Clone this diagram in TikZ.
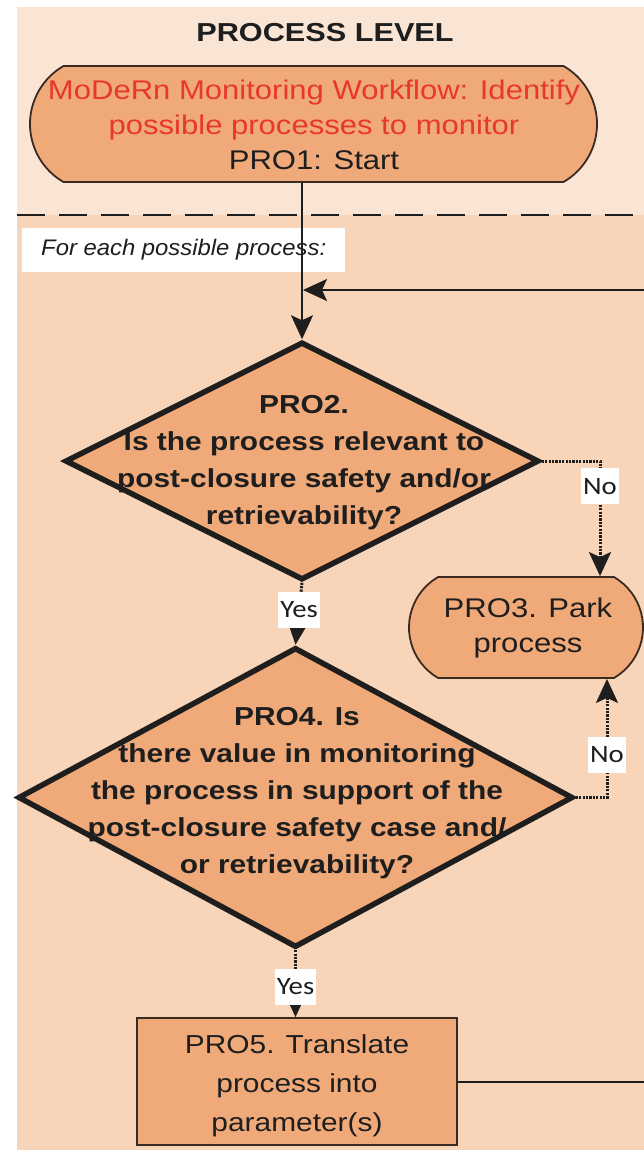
\documentclass[tikz,border=0pt]{standalone}
\usepackage{fontspec}
\setmainfont{Liberation Sans}
\newfontfamily\ftitle[FakeStretch=1.18]{Liberation Sans}
\newfontfamily\fbody[FakeStretch=1.15]{Liberation Sans}
\newfontfamily\fnote[FakeStretch=1.06]{Liberation Sans}
\newfontfamily\flab[FakeStretch=1.15]{Carlito}
\usetikzlibrary{shapes.geometric,shapes.misc,arrows.meta,calc}

\definecolor{bgtop}{HTML}{FAE5D5}
\definecolor{bgmain}{HTML}{F8D4B9}
\definecolor{boxfill}{HTML}{F0AA7A}
\definecolor{outline}{HTML}{3A2B22}
\definecolor{wfred}{HTML}{E8372C}
\definecolor{ink}{HTML}{1E1E1E}

\tikzset{
  terminal/.style={rounded rectangle, draw=outline, line width=1.8pt,
    fill=boxfill, inner sep=0pt},
  decision/.style={diamond, draw=ink, line width=5.5pt, fill=boxfill,
    inner sep=0pt, line join=miter},
  stepbox/.style={rectangle, draw=outline, line width=1.8pt, fill=boxfill,
    inner sep=0pt},
  bodytext/.style={align=center, text=ink, inner sep=0pt,
    font=\fbody\fontsize{26}{37}\selectfont},
  qtext/.style={bodytext, font=\fbody\bfseries\fontsize{26}{37}\selectfont},
  lab/.style={fill=white, inner xsep=2pt, inner ysep=0pt, minimum height=36pt,
    text=ink, font=\flab\fontsize{25}{25}\selectfont},
  flow/.style={draw=ink, line width=2pt,
    -{Stealth[length=24pt,width=22pt,inset=5pt]}},
  dotflow/.style={draw=ink, line width=3pt, dash pattern=on 2.2pt off 1.2pt,
    -{Stealth[length=24pt,width=22pt,inset=5pt]}},
  plain/.style={draw=ink, line width=2pt},
}

\begin{document}
\begin{tikzpicture}[x=1pt,y=-1pt]
\useasboundingbox (0,0) rectangle (644,1152);
\fill[white] (0,0) rectangle (644,1152);

% swimlane background: header band and body
\fill[bgtop] (17,7) rectangle (644,215);
\fill[bgmain] (17,215) rectangle (644,1150);
\draw[ink, line width=1.8pt, dash pattern=on 28pt off 14pt] (17,215) -- (644,215);

\node[text=ink, inner sep=0pt, font=\ftitle\bfseries\fontsize{26}{28}\selectfont]
  (title) at (325,33) {PROCESS LEVEL};

% start terminal
\node[terminal, minimum width=567pt, minimum height=116pt,
  rounded rectangle arc length=120] (pro1) at (313.5,124) {};
\node[bodytext, text=wfred, font=\fbody\fontsize{27}{35}\selectfont]
  (pro1txt) at (314,125)
  {MoDeRn Monitoring Workflow: Identify\\possible processes to monitor\\
   \textcolor{ink}{PRO1: Start}};

% loop heading
\node[fill=white, anchor=west, minimum width=323pt, inner xsep=15pt, inner ysep=0pt,
  minimum height=44pt, text=ink,
  font=\fnote\itshape\fontsize{22.5}{26}\selectfont]
  (loophead) at (22,250) {For each possible process:\hspace{8pt}};

% decisions and steps
\node[decision, minimum width=474pt, minimum height=238pt] (pro2) at (302,461) {};
\node[qtext] (pro2txt) at (304,463)
  {PRO2.\\Is the process relevant to\\post-closure safety and/or\\retrievability?};

\node[terminal, minimum width=234pt, minimum height=101pt,
  rounded rectangle arc length=120] (pro3) at (526,627.5) {};
\node[bodytext, font=\fbody\fontsize{27}{35}\selectfont] (pro3txt) at (528,628)
  {PRO3. Park\\process};

\node[decision, minimum width=555pt, minimum height=300pt] (pro4) at (295.5,797.5) {};
\node[qtext] (pro4txt) at (297,793)
  {PRO4. Is\\there value in monitoring\\the process in support of the\\
   post-closure safety case and/\\or retrievability?};

\node[stepbox, minimum width=320pt, minimum height=127pt] (pro5) at (297,1081.5) {};
\node[bodytext, font=\fbody\fontsize{26}{39}\selectfont] (pro5txt) at (297,1086)
  {PRO5. Translate\\process into\\parameter(s)};

% loop entry and exit points at the lane edge
\coordinate (loopR) at (644,290);
\coordinate (backR) at (644,1081.5);

% connectors
\draw[plain] (pro1.south -| pro2.north) -- (loophead.north -| pro2.north);
\draw[flow] (loophead.north -| pro2.north) -- (pro2.north);
\draw[flow, shorten >=1pt] (loopR) -- (loopR -| pro2.north);

\draw[dotflow] (pro2.south) -- (pro4.north) node[lab, pos=0.44] (yes1) {Yes};
\draw[dotflow] (pro4.south) -- (pro4.south |- pro5.north) node[lab, pos=0.55] (yes2) {Yes};

\draw[dotflow] (pro2.east) -| ($(pro3.north)+(74,0)$) node[lab, pos=0.61] (no1) {No};
\draw[dotflow] (pro4.east) -| ($(pro3.south)+(81,0)$) node[lab, pos=0.68] (no2) {No};

\draw[plain] (pro5.east) -- (backR);
\end{tikzpicture}
\end{document}
